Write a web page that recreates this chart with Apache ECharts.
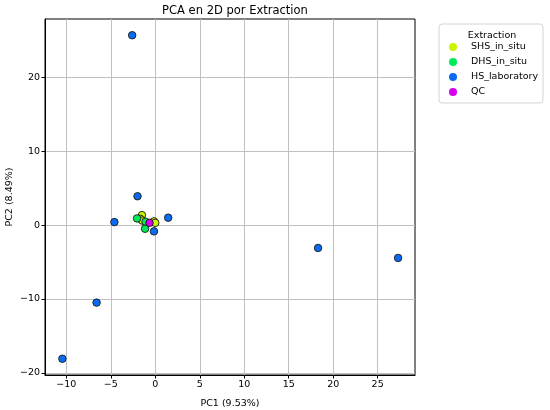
<!DOCTYPE html>
<html>
<head>
<meta charset="utf-8">
<script src="https://cdn.jsdelivr.net/npm/echarts@6/dist/echarts.min.js"></script>
<style>
  html, body { margin: 0; padding: 0; background: #fff; }
  #chart { width: 550px; height: 410px; }
</style>
</head>
<body>
<div id="chart"></div>
<script>
// groups and their points (PC1, PC2)
var groupNames = ['SHS_in_situ', 'DHS_in_situ', 'HS_laboratory', 'QC'];
var groupColors = ['#c8f500', '#00ea5a', '#0a6cf0', '#d600f0'];

var shsPoints = [[-1.5, 1.35], [-1.7, 0.85], [-1.45, 0.6], [-0.15, 0.5], [0.0, 0.3]];
var dhsPoints = [[-2.05, 0.9], [-1.1, 0.45], [-1.15, -0.5]];
var hsPoints = [
  [-2.6, 25.7], [-2.0, 3.9], [-4.6, 0.4], [1.45, 1.0], [-0.15, -0.85],
  [-6.6, -10.5], [-10.45, -18.1], [18.3, -3.1], [27.3, -4.45]
];
var qcPoints = [[-0.65, 0.3]];

var xTicks = [-10, -5, 0, 5, 10, 15, 20, 25];
var yTicks = [-20, -10, 0, 10, 20];

var font = 'DejaVu Sans';
var fmt = function (v) { return String(v).replace('-', '\u2212'); };

var chart = echarts.init(document.getElementById('chart'));

var pointSets = [shsPoints, dhsPoints, hsPoints, qcPoints];
var series = [];
for (var i = 0; i < groupNames.length; i++) {
  series.push({
    name: groupNames[i],
    type: 'scatter',
    data: pointSets[i],
    symbolSize: 7.5,
    itemStyle: { color: groupColors[i], borderColor: '#1a1a1a', borderWidth: 0.9, opacity: 1 }
  });
}

option = {
  backgroundColor: '#fff',
  animation: false,
  title: [{
    text: 'PCA en 2D por Extraction',
    left: 230, top: 0, textAlign: 'center',
    textStyle: { fontFamily: font, fontSize: 11.5, fontWeight: 'normal', color: '#000' }
  }, {
    text: 'Extraction',
    left: 487, top: 26, textAlign: 'center',
    textStyle: { fontFamily: font, fontSize: 9.5, fontWeight: 'normal', color: '#000' }
  }],
  legend: {
    orient: 'vertical',
    left: 439, top: 24,
    padding: [18, 5, 6, 10],
    itemWidth: 8, itemHeight: 8, itemGap: 5,
    icon: 'circle',
    borderColor: '#d4d4d4', borderWidth: 1, borderRadius: 3,
    textStyle: { fontFamily: font, fontSize: 9.5, color: '#000', padding: [0, 0, 0, 9] },
    data: groupNames.map(function (n, i) {
      return { name: n, itemStyle: { color: groupColors[i], borderWidth: 0 } };
    })
  },
  grid: {
    left: 45, right: 135, top: 19, bottom: 35,
    outerBoundsMode: 'none',
    show: true, borderColor: '#000', borderWidth: 1, containLabel: false
  },
  xAxis: {
    type: 'value', min: -12.4, max: 29.2,
    name: 'PC1 (9.53%)', nameLocation: 'middle', nameGap: 24, nameMoveOverlap: false,
    nameTextStyle: { fontFamily: font, fontSize: 9.5, color: '#000' },
    axisLine: { show: true, onZero: false, lineStyle: { color: '#000', width: 1 } },
    axisTick: { show: true, length: 3.5, customValues: xTicks, lineStyle: { color: '#000' } },
    axisLabel: { customValues: xTicks, fontFamily: font, fontSize: 9.5, color: '#000', margin: 5, formatter: fmt },
    splitLine: { show: true, lineStyle: { color: '#c0c0c0', width: 1 } }
  },
  yAxis: {
    type: 'value', min: -20.3, max: 27.9,
    name: 'PC2 (8.49%)', nameLocation: 'middle', nameGap: 30, nameMoveOverlap: false,
    nameTextStyle: { fontFamily: font, fontSize: 9.5, color: '#000' },
    axisLine: { show: true, onZero: false, lineStyle: { color: '#000', width: 1 } },
    axisTick: { show: true, length: 3.5, customValues: yTicks, lineStyle: { color: '#000' } },
    axisLabel: { customValues: yTicks, fontFamily: font, fontSize: 9.5, color: '#000', margin: 5, formatter: fmt },
    splitLine: { show: true, lineStyle: { color: '#c0c0c0', width: 1 } }
  },
  series: series
};

chart.setOption(option);
</script>
</body>
</html>
